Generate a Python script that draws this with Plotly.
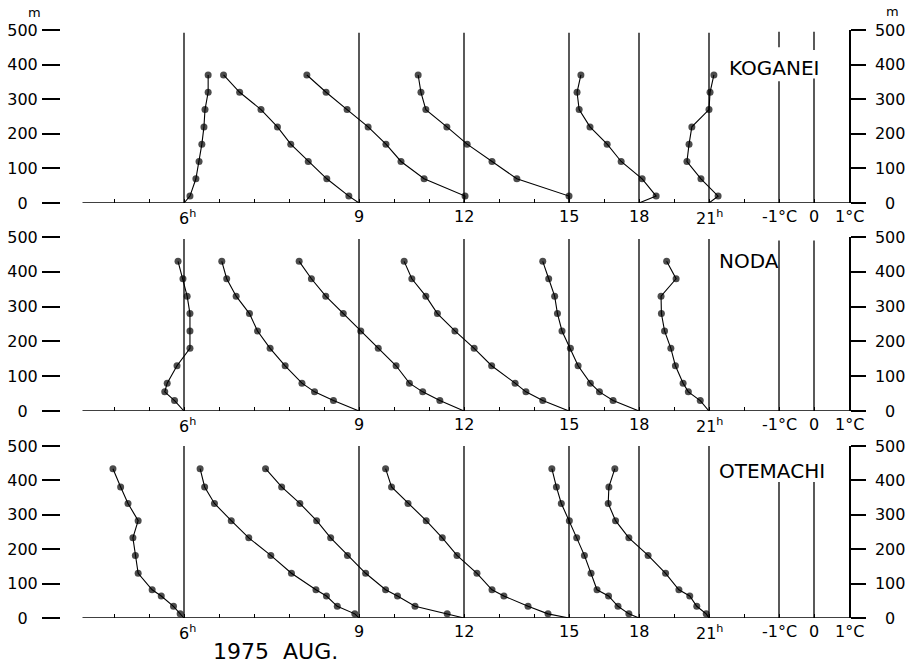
import plotly.graph_objects as go

# ---------------------------------------------------------------- data
STATIONS = ["KOGANEI", "NODA", "OTEMACHI"]
HOURS = [6, 9, 12, 15, 18, 21]
HOUR_LABELS = ["6", "9", "12", "15", "18", "21"]
# each hour's reference line sits at this value of the temperature scale (°C)
HOUR_LINE_C = [-18, -13, -10, -7, -5, -3]
SCALE_TICKS_C = [-1, 0, 1]
SCALE_LABELS = ["-1°C", "0", "1°C"]
HEIGHT_TICKS = [0, 100, 200, 300, 400, 500]
LEFT_TICK_TEXT = ["0\u2007", "100", "200", "300", "400", "500"]
RIGHT_TICK_TEXT = ["\u20070", "100", "200", "300", "400", "500"]

# observation heights (m)
KOGANEI_Z = [20, 70, 120, 170, 220, 270, 320, 370]
NODA_Z = [30, 55, 80, 130, 180, 230, 280, 330, 380, 430]
OTEMACHI_Z = [12, 34, 64, 82, 130, 182, 233, 283, 333, 381, 434]

# temperature relative to the surface value (°C), lowest level first
KOGANEI_06 = [0.17, 0.34, 0.43, 0.51, 0.57, 0.60, 0.69, 0.69]
KOGANEI_09 = [-0.29, -0.92, -1.45, -1.95, -2.33, -2.80, -3.41, -3.87]
KOGANEI_12 = [0.03, -1.14, -1.80, -2.23, -2.74, -3.34, -3.94, -4.49]
KOGANEI_15 = [0.00, -1.49, -2.20, -2.91, -3.49, -4.09, -4.23, -4.31]
KOGANEI_18 = [0.49, 0.09, -0.51, -0.91, -1.40, -1.71, -1.77, -1.66]
KOGANEI_21 = [0.26, -0.23, -0.63, -0.57, -0.49, 0.00, 0.03, 0.14]

NODA_06 = [-0.27, -0.55, -0.48, -0.20, 0.17, 0.17, 0.17, 0.09, -0.03, -0.17]
NODA_09 = [-0.73, -1.27, -1.63, -2.11, -2.54, -2.90, -3.13, -3.51, -3.78, -3.92]
NODA_12 = [-0.69, -1.18, -1.56, -1.94, -2.45, -2.95, -3.45, -3.95, -4.36, -4.71]
NODA_15 = [-0.75, -1.23, -1.54, -2.21, -2.71, -3.26, -3.76, -4.09, -4.49, -4.71]
NODA_18 = [-0.74, -1.13, -1.39, -1.74, -1.96, -2.20, -2.33, -2.41, -2.58, -2.75]
NODA_21 = [-0.25, -0.59, -0.74, -0.96, -1.09, -1.27, -1.36, -1.37, -0.94, -1.21]

OTEMACHI_06 = [-0.11, -0.30, -0.65, -0.91, -1.31, -1.39, -1.46, -1.31, -1.60, -1.81, -2.03]
OTEMACHI_09 = [-0.12, -0.62, -0.93, -1.23, -1.93, -2.52, -3.15, -3.65, -4.13, -4.41, -4.54]
OTEMACHI_12 = [-0.48, -1.40, -1.90, -2.24, -2.81, -3.33, -3.81, -4.21, -4.69, -5.21, -5.67]
OTEMACHI_15 = [-0.60, -1.17, -1.86, -2.20, -2.63, -3.20, -3.62, -4.08, -4.60, -5.07, -5.24]
OTEMACHI_18 = [-0.29, -0.60, -0.87, -1.20, -1.37, -1.56, -1.78, -1.99, -2.22, -2.36, -2.49]
OTEMACHI_21 = [-0.08, -0.35, -0.55, -0.86, -1.24, -1.74, -2.29, -2.67, -2.88, -2.86, -2.69]

HEIGHTS = {"KOGANEI": KOGANEI_Z, "NODA": NODA_Z, "OTEMACHI": OTEMACHI_Z}
PROFILES = {
    "KOGANEI": [KOGANEI_06, KOGANEI_09, KOGANEI_12, KOGANEI_15, KOGANEI_18, KOGANEI_21],
    "NODA": [NODA_06, NODA_09, NODA_12, NODA_15, NODA_18, NODA_21],
    "OTEMACHI": [OTEMACHI_06, OTEMACHI_09, OTEMACHI_12, OTEMACHI_15, OTEMACHI_18, OTEMACHI_21],
}

# ---------------------------------------------------------------- layout constants
W, H = 919, 664
FONT = "DejaVu Sans"
INK = "#000000"
PX_PER_C = 35.0
PLOT_L, PLOT_R = 61, 849          # pixel edges of the plotting area
X_RANGE = [1 - (PLOT_R - PLOT_L) / PX_PER_C, 1.0]
BASE_LEFT = -20.9                 # where the ground line begins
PANEL_PX = {"KOGANEI": (203, 30), "NODA": (411, 237), "OTEMACHI": (618, 446)}
HOUR_LINE_TOP = {"KOGANEI": 492, "NODA": 494, "OTEMACHI": 500}
SCALE_SEGMENTS = {
    "KOGANEI": {-1: [(0, 352), (450, 495)], 0: [(0, 360), (442, 495)]},
    "NODA": {-1: [(0, 490)], 0: [(0, 490)]},
    "OTEMACHI": {-1: [(0, 395)], 0: [(0, 395)]},
}
TITLE_POS = {"KOGANEI": (-1.14, 390), "NODA": (-1.86, 432), "OTEMACHI": (-1.21, 427)}


def px_to_paper(px, py):
    """Figure pixel position -> paper coordinates of the plotting area."""
    return (px - PLOT_L) / (PLOT_R - PLOT_L), 1 - py / H


fig = go.Figure()
shapes, annotations = [], []
label_font = dict(family=FONT, size=16, color=INK)

for i, st in enumerate(STATIONS):
    n = i + 1
    xa = "x" if n == 1 else f"x{n}"
    ya = "y" if n == 1 else f"y{n}"
    yr = f"y{n + 3}"
    z = HEIGHTS[st]

    # temperature profiles: start at the surface on the hour line
    for hour_c, dev in zip(HOUR_LINE_C, PROFILES[st]):
        fig.add_trace(go.Scatter(
            x=[hour_c] + [hour_c + d for d in dev],
            y=[0] + z,
            xaxis=xa, yaxis=ya,
            mode="lines+markers",
            line=dict(color=INK, width=1.1),
            marker=dict(color=INK, size=[0] + [7] * len(z), line=dict(width=0)),
            cliponaxis=False, showlegend=False, hoverinfo="skip",
        ))
    # right-hand height axis
    fig.add_trace(go.Scatter(x=[], y=[], xaxis=xa, yaxis=yr, showlegend=False))

    y0_px, y1_px = PANEL_PX[st]
    dom = [1 - y0_px / H, 1 - y1_px / H]
    fig.update_layout(**{
        f"xaxis{'' if n == 1 else n}": dict(
            domain=[0, 1], range=X_RANGE, anchor=ya, automargin=False,
            tickmode="array", tickvals=list(range(-20, 2)),
            ticks="inside", ticklen=4, tickwidth=1.2, tickcolor=INK,
            showticklabels=False, showline=False, showgrid=False, zeroline=False,
        ),
        f"yaxis{'' if n == 1 else n}": dict(
            domain=dom, range=[0, 500], anchor=xa, automargin=False,
            tickmode="array", tickvals=HEIGHT_TICKS, ticktext=LEFT_TICK_TEXT,
            ticks="outside", ticklen=18, tickwidth=1.5, tickcolor=INK,
            ticklabelstandoff=1,
            tickfont=label_font,
            showline=False, showgrid=False, zeroline=False,
        ),
        f"yaxis{n + 3}": dict(
            overlaying=ya, side="right", anchor=xa, range=[0, 500], automargin=False,
            tickmode="array", tickvals=HEIGHT_TICKS, ticktext=RIGHT_TICK_TEXT,
            ticks="outside", ticklen=15, tickwidth=1.5, tickcolor=INK,
            ticklabelstandoff=6,
            tickfont=label_font,
            showline=True, linewidth=1.5, linecolor=INK,
            showgrid=False, zeroline=False,
        ),
    })

    # ground line
    shapes.append(dict(type="line", xref=xa, yref=ya, x0=BASE_LEFT, x1=1, y0=0, y1=0,
                       line=dict(color=INK, width=1.5)))
    # hour reference lines
    for hc in HOUR_LINE_C:
        shapes.append(dict(type="line", xref=xa, yref=ya, x0=hc, x1=hc, y0=0,
                           y1=HOUR_LINE_TOP[st], line=dict(color=INK, width=1.3)))
    # temperature scale lines
    for c, segs in SCALE_SEGMENTS[st].items():
        for s0, s1 in segs:
            shapes.append(dict(type="line", xref=xa, yref=ya, x0=c, x1=c, y0=s0, y1=s1,
                               line=dict(color=INK, width=1.3)))

    # hour labels under the ground line
    for hc, lab in zip(HOUR_LINE_C, HOUR_LABELS):
        if lab == "6":
            annotations.append(dict(xref=xa, yref=ya, x=hc, y=0, text="6<sup>h</sup>",
                                    xanchor="left", yanchor="top", xshift=-7, yshift=-2,
                                    showarrow=False, font=label_font))
        elif lab == "21":
            annotations.append(dict(xref=xa, yref=ya, x=hc, y=0, text="21<sup>h</sup>",
                                    xanchor="left", yanchor="top", xshift=-15, yshift=-2,
                                    showarrow=False, font=label_font))
        else:
            annotations.append(dict(xref=xa, yref=ya, x=hc, y=0, text=lab,
                                    xanchor="center", yanchor="top", yshift=-2,
                                    showarrow=False, font=label_font))
    for c, lab in zip(SCALE_TICKS_C, SCALE_LABELS):
        annotations.append(dict(xref=xa, yref=ya, x=c, y=0, text=lab,
                                xanchor="center", yanchor="top", yshift=-2,
                                showarrow=False, font=label_font))

    # station name
    tx, ty = TITLE_POS[st]
    annotations.append(dict(xref=xa, yref=ya, x=tx, y=ty, text=st,
                            xanchor="center", yanchor="middle", showarrow=False,
                            font=dict(family=FONT, size=20, color=INK)))

# unit marks above the height scales (anchored at their lower edge) and the date
for (px, py), txt, size in [((34, 22), "m", 13), ((892, 21), "m", 13),
                            ((275, 666), "1975  AUG.", 22)]:
    ax, ay = px_to_paper(px, py)
    annotations.append(dict(xref="paper", yref="paper", x=ax, y=ay, text=txt,
                            xanchor="center", yanchor="bottom", showarrow=False,
                            font=dict(family=FONT, size=size, color=INK)))

fig.update_layout(
    width=W, height=H,
    margin=dict(l=PLOT_L, r=W - PLOT_R, t=0, b=0, autoexpand=False),
    paper_bgcolor="white", plot_bgcolor="white",
    shapes=shapes, annotations=annotations,
    showlegend=False,
)

fig.write_html("out.html")
